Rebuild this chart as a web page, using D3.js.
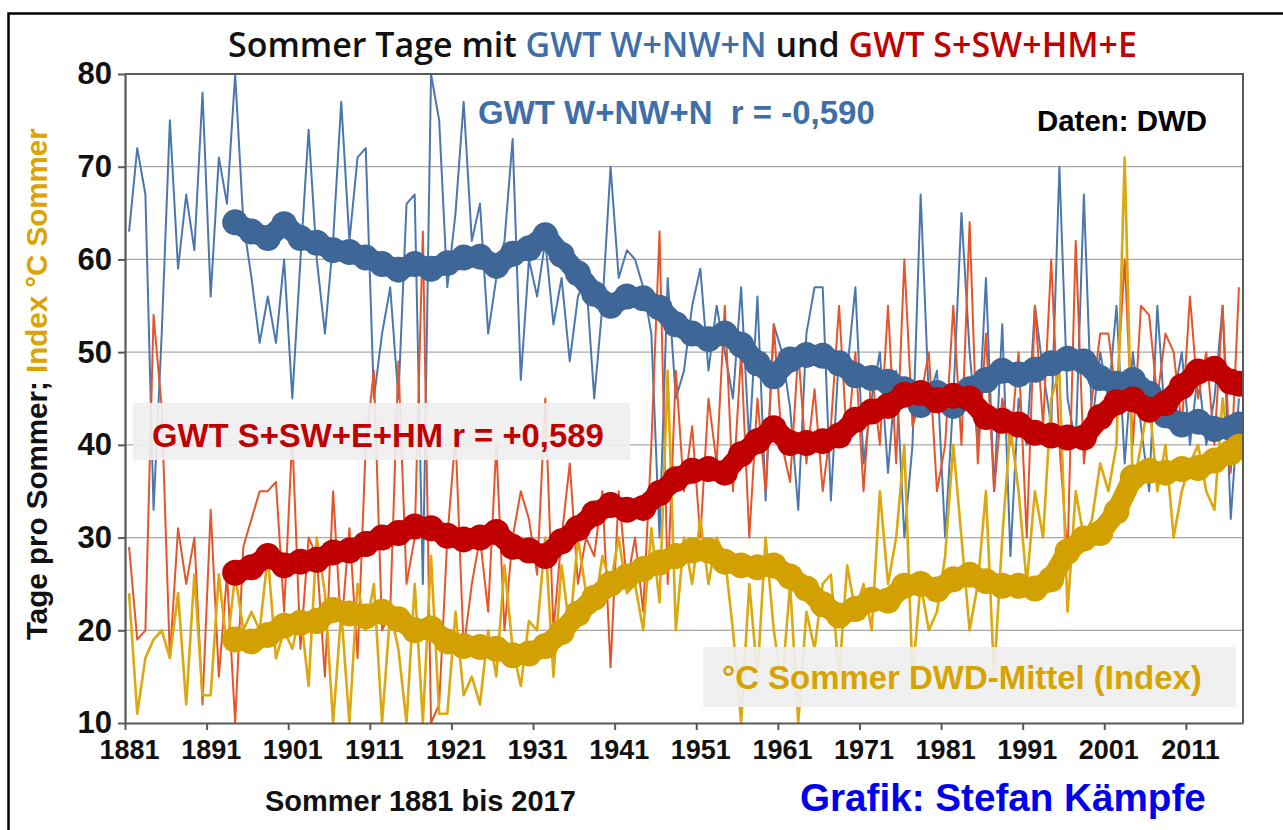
<!DOCTYPE html>
<html><head><meta charset="utf-8">
<script src="https://cdn.jsdelivr.net/npm/d3@7"></script>
<style>body{margin:0;background:#fff;} svg{display:block}</style>
</head><body><svg id="c" width="1283" height="830"></svg>
<script>
// ---------------- DATA ----------------
const firstYear = 1881, lastYear = 2017;
const years = d3.range(firstYear, lastYear + 1);

// GWT W+NW+N (days per summer)
const gwtWest = [
 63,72,67,33,52,75,59,67,61,78,
 56,71,66,80,64,58,51,56,51,60,
 45,60,74,60,52,62,77,62,71,72,
 45,52,57,45,66,67,25,80,75,57,
 65,77,62,66,52,58,62,73,47,60,
 56,62,53,58,49,56,58,45,55,70,
 58,61,60,57,52,30,58,45,48,55,
 59,48,55,50,45,57,40,56,34,53,
 50,44,33,52,57,57,34,50,48,57,
 38,45,50,37,48,30,40,67,45,48,
 30,45,65,50,40,58,35,53,28,45,
 40,55,48,42,70,45,40,67,42,50,
 45,55,38,50,42,35,55,42,45,50,
 40,48,40,45,55,32,45];
// GWT S+SW+HM+E (days per summer)
const gwtSouth = [
 29,19,20,54,44,17,31,25,30,12,
 33,15,26,10,29,32,35,35,36,22,
 41,18,30,28,15,35,20,31,17,40,
 48,20,22,49,25,30,63,10,12,30,
 41,18,25,30,22,40,20,30,35,32,
 26,45,20,30,38,25,30,28,35,16,
 35,25,30,22,40,63,25,48,35,42,
 30,45,38,55,35,50,30,45,35,53,
 40,36,50,38,46,35,42,55,40,50,
 35,48,40,55,38,60,42,45,50,35,
 40,55,40,64,38,52,35,45,40,50,
 30,55,42,60,40,28,62,38,45,52,
 52,45,60,40,55,54,45,52,50,42,
 56,45,50,40,55,37,57];
// °C Sommer DWD-Mittel (Index)
const tempIndex = [
 24,11,17,19,20,17,24,12,26,13,
 13,26,18,26,20,22,20,28,17,20,
 18,22,14,30,24,10,22,10,25,20,
 25,10,22,18,10,25,10,28,11,11,
 22,13,15,12,20,15,27,18,14,21,
 20,30,15,27,20,30,24,22,28,25,
 30,24,25,20,31,23,48,20,30,25,
 32,25,30,28,20,10,25,15,30,20,
 14,25,10,22,18,25,26,15,27,22,
 25,20,35,25,30,40,15,25,20,22,
 28,40,30,20,25,35,15,30,42,35,
 25,35,30,45,48,22,35,30,32,38,
 35,40,71,35,40,45,35,40,30,35,
 38,40,35,33,45,38,40];

// smoothed curves
const smoothYears = [1894,1896,1898,1900,1902,1904,1906,1908,1910,1912,
 1914,1916,1918,1920,1922,1924,1926,1928,1930,1932,
 1934,1936,1938,1940,1942,1944,1946,1948,1950,1952,
 1954,1956,1958,1960,1962,1964,1966,1968,1970,1972,
 1974,1976,1978,1980,1982,1984,1986,1988,1990,1992,
 1994,1996,1998,2000,2002,2004,2006,2008,2010,2012,
 2014,2016,2017];
const westSmooth = [64,63,62.3,63.8,62.3,61.8,61,60.8,60.2,59.5,
 58.9,59.5,59,59.6,60.2,60.3,59.3,60.6,61.2,62.6,
 60.5,58.5,56.3,55,56,55.8,54.8,53,52,51.4,
 52,50.8,48.8,47.4,49.2,49.7,49.6,48.8,47.5,47.2,
 46.8,46,44.3,45.6,44.2,46,47,48,47.6,48.1,
 48.8,49.3,49,47.2,46.6,47,45.5,43.2,42.2,42.5,
 41.7,41.8,42.2];
const southSmooth = [26.2,26.8,28,27,27.4,27.6,28.4,28.6,29.3,30,
 30.5,31.2,31,30.2,29.8,30,30.6,29,28.6,28,
 29.6,31,32.6,33.5,33,33.2,34.8,36.3,37.2,37.4,
 37,39,40.4,41.8,40.2,40.2,40.4,41,42.7,43.6,
 44.2,45.4,45.6,44.8,45.3,45,43,42.6,42.2,41.3,
 41,40.8,40.8,43,44.6,44.9,43.8,44.5,46.3,47.9,
 48.2,46.8,46.6];
const tempSmooth = [19,18.8,19.5,20.5,20.8,21,22.2,21.8,21.5,22,
 21.2,20,20.2,18.8,18.3,18.2,18,17.3,17.5,18.3,
 19.8,21.8,23.5,25,25.8,26.6,27.3,28,28.6,28.6,
 27.4,27,26.8,27,25.8,24.5,22.8,21.6,22.3,23.3,
 23.2,24.8,25,24.4,25.5,26,25.3,24.8,24.8,24.5,
 25.5,28.5,29.9,30.5,32.8,36.5,37.2,37,37.4,37.5,
 38.3,39.2,39.8];

const yTicks = [10,20,30,40,50,60,70,80];
const xTickYears = [1881,1891,1901,1911,1921,1931,1941,1951,1961,1971,1981,1991,2001,2011];

// ---------------- DRAW ----------------
const svg = d3.select('#c');
const L = 125, R = 1243, T = 74, B = 723;
const x = d3.scaleBand().domain(years).range([L, R]);
const bw = x.bandwidth();
const xc = d => x(d) + bw / 2;
const y = d3.scaleLinear().domain([10, 80]).range([B, T]);

const C = {
  blue: '#4b77ae', blueS: '#3e6696',
  red: '#e5552a', redS: '#c00000',
  gold: '#dca80f', goldS: '#d2a000'
};

// outer frame
svg.append('rect').attr('x', 8.5).attr('y', 13.5).attr('width', 1300).attr('height', 840)
  .attr('fill', 'none').attr('stroke', '#000').attr('stroke-width', 2.5);

// gridlines
svg.append('g').selectAll('line').data(yTicks.filter(v => v > 10 && v < 80)).join('line')
  .attr('x1', L).attr('x2', R).attr('y1', d => y(d)).attr('y2', d => y(d))
  .attr('stroke', '#a8a8a8').attr('stroke-width', 1.3);

svg.append('defs').append('clipPath').attr('id', 'plot')
  .append('rect').attr('x', L).attr('y', T - 1).attr('width', R - L).attr('height', B - T + 2);

const plot = svg.append('g').attr('clip-path', 'url(#plot)');

// raw lines
function raw(vals, col, w) {
  const line = d3.line().x((d, i) => xc(years[i])).y(d => y(d));
  plot.append('path').attr('d', line(vals)).attr('fill', 'none').attr('stroke', col)
    .attr('stroke-width', w).attr('stroke-linejoin', 'round');
}
raw(gwtWest, C.blue, 2);
raw(gwtSouth, C.red, 2);
raw(tempIndex, C.gold, 2.6);

// smoothed bands
function band(vals, col) {
  const pts = smoothYears.map((yr, i) => [xc(yr), y(vals[i])]);
  plot.append('path').attr('d', d3.line()(pts)).attr('fill', 'none').attr('stroke', col)
    .attr('stroke-width', 21).attr('stroke-linejoin', 'round').attr('stroke-linecap', 'round');
  plot.append('g').selectAll('circle').data(pts).join('circle')
    .attr('cx', d => d[0]).attr('cy', d => d[1]).attr('r', 13).attr('fill', col);
}
band(westSmooth, C.blueS);
band(southSmooth, C.redS);
band(tempSmooth, C.goldS);

// plot border (top/right)
svg.append('path').attr('d', `M${L},${T}H${R}V${B}`).attr('fill', 'none')
  .attr('stroke', '#595959').attr('stroke-width', 2);

// helpers
function fit(sel, w) {
  const cur = sel.node().getComputedTextLength();
  const fs = parseFloat(sel.attr('font-size'));
  sel.attr('font-size', fs * w / cur);
  return sel;
}
const ARIAL = '"Liberation Sans", Arial, sans-serif';

// axes
const yAxis = svg.append('g').attr('transform', `translate(${L},0)`)
  .call(d3.axisLeft(y).tickValues(yTicks).tickSize(7).tickSizeOuter(0).tickPadding(6));
const xLin = d3.scaleLinear().domain([firstYear, lastYear + 1]).range([L, R]);
const xAxis = svg.append('g').attr('transform', `translate(0,${B})`)
  .call(d3.axisBottom(xLin).tickValues(xTickYears).tickSize(7).tickSizeOuter(0).tickFormat(d3.format('d')).tickPadding(10));
xAxis.selectAll('text').attr('dx', bw / 2);
[yAxis, xAxis].forEach(a => {
  a.select('.domain').attr('stroke', '#595959').attr('stroke-width', 2.2);
  a.selectAll('.tick line').attr('stroke', '#595959').attr('stroke-width', 2);
  a.selectAll('text').style('font-family', ARIAL).style('font-weight', 'bold').style('fill', '#111');
});
yAxis.selectAll('text').style('font-size', '31px');
xAxis.selectAll('text').style('font-size', '27px');

// title
const title = svg.append('text').attr('x', 228).attr('y', 57)
  .attr('font-family', '"Open Sans", "Noto Sans", sans-serif').attr('font-weight', 600).attr('font-size', 30);
title.append('tspan').text('Sommer Tage mit ').attr('fill', '#111');
title.append('tspan').text('GWT W+NW+N').attr('fill', '#3f6ea8');
title.append('tspan').text(' und ').attr('fill', '#111');
title.append('tspan').text('GWT S+SW+HM+E').attr('fill', '#c00000');
fit(title, 909);

// y axis title
const yt = svg.append('text').attr('transform', 'translate(47,640) rotate(-90)')
  .attr('font-family', ARIAL).attr('font-weight', 'bold').attr('font-size', 22);
yt.append('tspan').text('Tage  pro Sommer; ').attr('fill', '#111');
yt.append('tspan').text('Index °C Sommer').attr('fill', '#dca300');
fit(yt, 512);

// annotations
fit(svg.append('text').attr('x', 478).attr('y', 124).attr('font-family', ARIAL).attr('font-weight', 'bold')
  .attr('font-size', 24).attr('fill', '#3f6ea8').attr('xml:space', 'preserve').text('GWT W+NW+N  r = -0,590'), 397);
fit(svg.append('text').attr('x', 1037).attr('y', 131).attr('font-family', ARIAL).attr('font-weight', 'bold')
  .attr('font-size', 20).attr('fill', '#000').text('Daten: DWD'), 170);

svg.append('rect').attr('x', 133).attr('y', 403).attr('width', 497).attr('height', 57)
  .attr('fill', '#efefef').attr('fill-opacity', 0.92);
fit(svg.append('text').attr('x', 152).attr('y', 447).attr('font-family', ARIAL).attr('font-weight', 'bold')
  .attr('font-size', 24).attr('fill', '#c00000').text('GWT S+SW+E+HM r = +0,589'), 452);

svg.append('rect').attr('x', 703).attr('y', 647).attr('width', 533).attr('height', 60)
  .attr('fill', '#efefef').attr('fill-opacity', 0.92);
fit(svg.append('text').attr('x', 722).attr('y', 689).attr('font-family', ARIAL).attr('font-weight', 'bold')
  .attr('font-size', 24).attr('fill', '#d6a300').text('°C Sommer DWD-Mittel (Index)'), 480);

fit(svg.append('text').attr('x', 265).attr('y', 811).attr('font-family', ARIAL).attr('font-weight', 'bold')
  .attr('font-size', 22).attr('fill', '#111').text('Sommer 1881 bis 2017'), 311);
fit(svg.append('text').attr('x', 800).attr('y', 811).attr('font-family', ARIAL).attr('font-weight', 'bold')
  .attr('font-size', 26).attr('fill', '#0000f0').text('Grafik: Stefan Kämpfe'), 406);
</script>
</body></html>
